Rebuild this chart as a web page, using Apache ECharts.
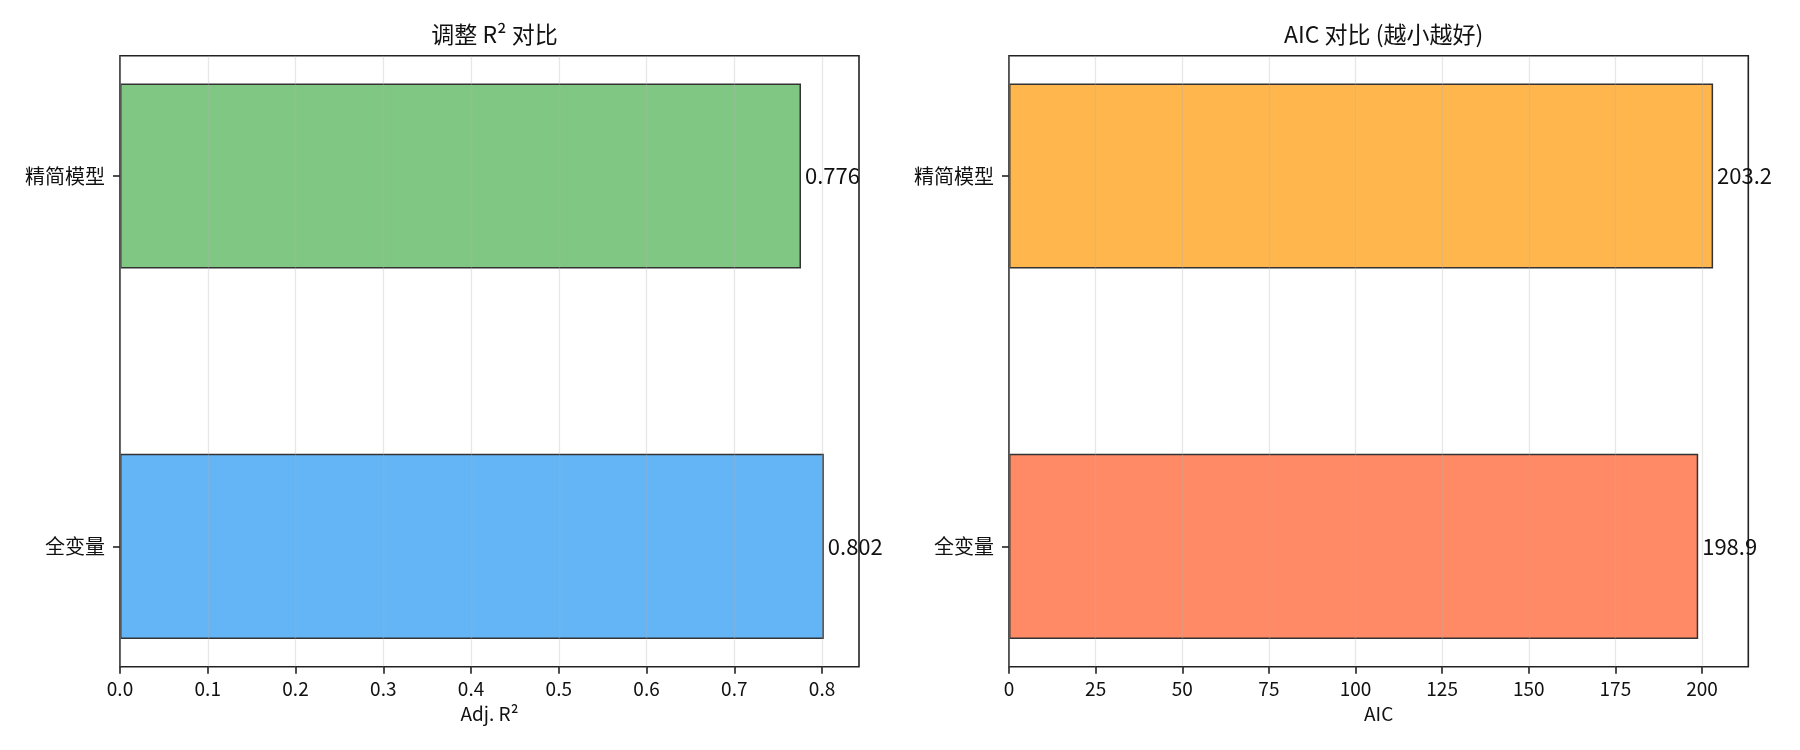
<!DOCTYPE html>
<html>
<head>
<meta charset="utf-8">
<title>模型对比</title>
<script src="https://cdn.jsdelivr.net/npm/echarts@6/dist/echarts.min.js"></script>
<style>
html, body { margin: 0; padding: 0; background: #fff; }
#div_compare { width: 1800px; height: 750px; }
</style>
</head>
<body>
<div id="div_compare"></div>
<script>
// 类别（自下而上）
var categories = ['全变量', '精简模型'];
// 调整 R² 值
var adjR2Values = [0.802, 0.776];
// AIC 值
var aicValues = [198.9, 203.2];
// 刻度
var r2Ticks = [0, 0.1, 0.2, 0.3, 0.4, 0.5, 0.6, 0.7, 0.8];
var aicTicks = [0, 25, 50, 75, 100, 125, 150, 175, 200];

var FONT = '"Noto Sans CJK SC", "Noto Sans", sans-serif';
var FRAME_TOP = 55.7, FRAME_H = 611;
// 横条高度 0.5，上下各留 5% 边距 -> y 范围 [-0.325, 1.325]
var BAND = FRAME_H / 1.65;
var BAR_TOP = FRAME_TOP - 0.175 * BAND;

// 构造一个子图（边框网格 + 条形网格）
function buildPanel(idx, left, width, values, ticks, colors, labelDigits, tickDigits, axisName) {
	var xMax = Math.max.apply(null, values) * 1.05;// matplotlib 默认边距
	var grids = [{
		left : left,
		top : FRAME_TOP,
		width : width,
		height : FRAME_H,
		outerBoundsMode : 'none',
		show : true,
		borderColor : '#222',
		borderWidth : 1.6,
		backgroundColor : 'transparent'
	}, {
		left : left,
		top : BAR_TOP,
		width : width,
		height : 2 * BAND,
		outerBoundsMode : 'none',
		show : false
	}];
	var xAxes = [{
		gridIndex : idx * 2,
		type : 'value',
		min : 0,
		max : xMax,
		interval : ticks[1] - ticks[0],
		z : 5,
		name : axisName,
		nameLocation : 'middle',
		nameGap : 38,
		nameTextStyle : {
			color : '#111',
			fontSize : 19,
			fontFamily : FONT
		},
		axisLine : {
			show : false
		},
		axisTick : {
			show : true,
			customValues : ticks,
			length : 7,
			lineStyle : {
				color : '#222',
				width : 1.6
			}
		},
		axisLabel : {
			customValues : ticks,
			margin : 13,
			color : '#111',
			fontSize : 19,
			fontFamily : FONT,
			formatter : function(v) {
				return v.toFixed(tickDigits);
			}
		},
		splitLine : {
			show : true,
			lineStyle : {
				color : '#b0b0b0',
				opacity : 0.3,
				width : 1.3
			}
		}
	}, {
		gridIndex : idx * 2 + 1,
		type : 'value',
		min : 0,
		max : xMax,
		show : false
	}];
	var yAxes = [{
		gridIndex : idx * 2,
		type : 'value',
		show : false
	}, {
		gridIndex : idx * 2 + 1,
		type : 'category',
		data : categories,
		axisLine : {
			show : false
		},
		axisTick : {
			show : true,
			alignWithLabel : true,
			length : 7,
			lineStyle : {
				color : '#222',
				width : 1.6
			}
		},
		axisLabel : {
			margin : 15,
			color : '#111',
			fontSize : 20,
			fontFamily : FONT
		},
		splitLine : {
			show : false
		}
	}];
	var data = [];
	for (var i = 0; i < values.length; i++) {
		data.push({
			value : values[i],
			itemStyle : {
				color : colors[i]
			}
		});
	}
	var series = [{
		type : 'bar',
		xAxisIndex : idx * 2 + 1,
		yAxisIndex : idx * 2 + 1,
		barWidth : '50%',
		data : data,
		itemStyle : {
			borderColor : '#333',
			borderWidth : 1.5
		},
		label : {
			show : true,
			position : 'right',
			distance : 4,
			color : '#111',
			fontSize : 22,
			fontFamily : FONT,
			formatter : function(p) {
				return p.value.toFixed(labelDigits);
			}
		}
	}];
	return {
		grids : grids,
		xAxes : xAxes,
		yAxes : yAxes,
		series : series
	};
}

var p1 = buildPanel(0, 120, 739, adjR2Values, r2Ticks, ['#64B5F6', '#81C784'], 3, 1, 'Adj. R²');
var p2 = buildPanel(1, 1009, 739.3, aicValues, aicTicks, ['#FF8A65', '#FFB74D'], 1, 0, 'AIC');

var myChart = echarts.init(document.getElementById('div_compare'));
var option = {
	animation : false,
	backgroundColor : '#fff',
	title : [{
		text : '调整 R² 对比',
		left : 489.5,
		top : 18,
		textAlign : 'center',
		textStyle : {
			color : '#111',
			fontSize : 23,
			fontWeight : 'normal',
			fontFamily : FONT
		}
	}, {
		text : 'AIC 对比 (越小越好)',
		left : 1378.7,
		top : 18,
		textAlign : 'center',
		textStyle : {
			color : '#111',
			fontSize : 23,
			fontWeight : 'normal',
			fontFamily : FONT
		}
	}],
	grid : p1.grids.concat(p2.grids),
	xAxis : p1.xAxes.concat(p2.xAxes),
	yAxis : p1.yAxes.concat(p2.yAxes),
	series : p1.series.concat(p2.series)
};
myChart.setOption(option);
</script>
</body>
</html>
